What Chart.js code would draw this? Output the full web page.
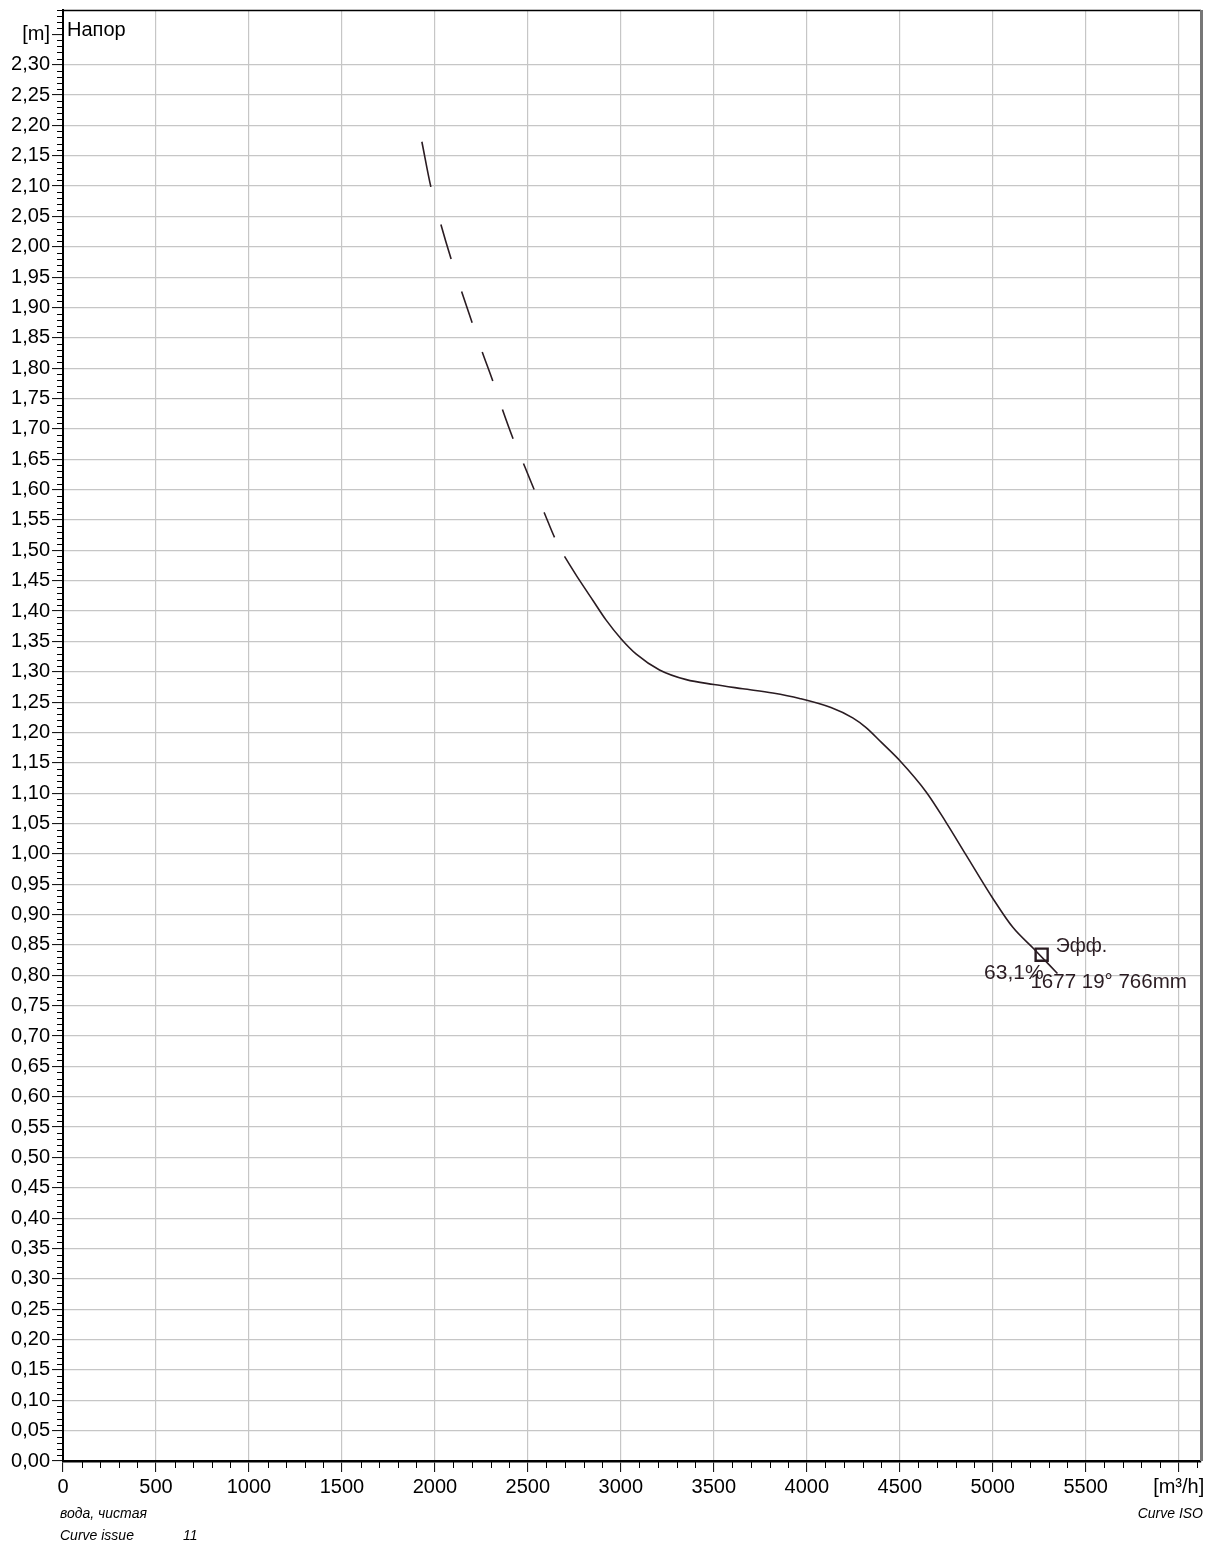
<!DOCTYPE html>
<html><head><meta charset="utf-8">
<script src="https://cdn.jsdelivr.net/npm/chart.js@4.4.1/dist/chart.umd.min.js"></script>
<style>html,body{margin:0;padding:0;background:#fff}#wrap{width:1206px;height:1544px;position:relative}canvas{display:block}</style>
</head><body><div id="wrap"><canvas id="c" width="1206" height="1544"></canvas></div>
<script>
// ---- data ----
const flow = [1930,1978,2031,2086,2142,2199,2253,2310,2362,2419,2475,2534,2588,2644,2697,2779,2851,2921,3002,3083,3208,3352,3500,3656,3817,3961,4130,4247,4319,4400,4502,4642,4749,4857,5000,5108,5223,5348];
const head = [2.173,2.099,2.038,1.981,1.928,1.876,1.828,1.780,1.733,1.685,1.644,1.600,1.562,1.521,1.490,1.450,1.417,1.385,1.354,1.329,1.303,1.287,1.279,1.272,1.265,1.256,1.241,1.224,1.208,1.184,1.153,1.102,1.052,0.998,0.927,0.879,0.843,0.803];
const unstableUntil = 2697;           // flow up to which the curve is drawn dashed
const dutyFlow = [5263];
const dutyHead = [0.834];
const dutyName = 'Эфф.';
const dutyEff = '63,1%';
const curveName = '1677 19° 766mm';
const yTitle = 'Напор';
const yUnit = '[m]';
const xUnit = '[m³/h]';
const xMajorTicks = [0,500,1000,1500,2000,2500,3000,3500,4000,4500,5000,5500,6000];
const footMedium = 'вода, чистая';
const footIssueLabel = 'Curve issue';
const footIssueValue = '11';
const footStandard = 'Curve ISO';

// ---- build ----
const pts = flow.map((f, i) => ({x: f, y: head[i]}));
const dashedPts = pts.filter(p => p.x <= unstableUntil);
const solidPts = pts.filter(p => p.x >= unstableUntil);
const INK = '#2a1c22';
const FONT = "'Liberation Sans', Arial, sans-serif";
const near = (a, b) => Math.abs(a - b) < 1e-6;

const decor = {
  id: 'decor',
  beforeDatasetsDraw(chart) {
    const {ctx, chartArea: a, scales: {x, y}} = chart;
    ctx.save();
    ctx.strokeStyle = '#000';
    ctx.lineWidth = 1;
    ctx.beginPath();
    for (let i = 0; i <= 239; i++) {
      if (i % 5 === 0) continue;
      const py = Math.round(y.getPixelForValue(i / 100)) + 0.5;
      ctx.moveTo(a.left - 6, py); ctx.lineTo(a.left, py);
    }
    for (let i = 0; i <= 61; i++) {
      if (i % 5 === 0) continue;
      const px = Math.round(x.getPixelForValue(i * 100)) + 0.5;
      ctx.moveTo(px, a.bottom); ctx.lineTo(px, a.bottom + 7);
    }
    ctx.stroke();
    ctx.strokeStyle = '#000';
    ctx.lineWidth = 1.5;
    ctx.beginPath(); ctx.moveTo(a.left, a.top + 0.5); ctx.lineTo(a.right, a.top + 0.5); ctx.stroke();
    ctx.strokeStyle = '#777';
    ctx.lineWidth = 3;
    ctx.beginPath(); ctx.moveTo(a.right + 0.5, a.top); ctx.lineTo(a.right + 0.5, a.bottom); ctx.stroke();
    ctx.restore();
  },
  afterDraw(chart) {
    const {ctx, chartArea: a, scales: {x, y}} = chart;
    ctx.save();
    ctx.fillStyle = '#000';
    ctx.font = '20px ' + FONT;
    ctx.textBaseline = 'middle';
    ctx.textAlign = 'left';
    ctx.fillText(yTitle, a.left + 4, 30);
    const dx = x.getPixelForValue(dutyFlow[0]);
    const dy = y.getPixelForValue(dutyHead[0]);
    ctx.fillStyle = INK;
    ctx.textBaseline = 'alphabetic';
    ctx.font = '19.5px ' + FONT;
    ctx.textAlign = 'left';
    ctx.fillText(dutyName, dx + 14, dy - 3);
    ctx.font = '21px ' + FONT;
    ctx.textAlign = 'right';
    ctx.fillText(dutyEff, dx + 2, dy + 24);
    const ex = x.getPixelForValue(flow[flow.length - 1]);
    const ey = y.getPixelForValue(head[head.length - 1]);
    ctx.textAlign = 'left';
    ctx.font = '20.5px ' + FONT;
    ctx.fillText(curveName, ex - 27, ey + 15);
    ctx.fillStyle = '#000';
    ctx.font = 'italic 14px ' + FONT;
    ctx.textBaseline = 'middle';
    ctx.textAlign = 'left';
    ctx.fillText(footMedium, 60, 1514);
    ctx.fillText(footIssueLabel, 60, 1536);
    ctx.fillText(footIssueValue, 183, 1536);
    ctx.textAlign = 'right';
    ctx.fillText(footStandard, 1203, 1514);
    ctx.restore();
  }
};

new Chart(document.getElementById('c'), {
  type: 'line',
  data: {
    datasets: [
      {data: dashedPts, borderColor: INK, borderWidth: 1.6, pointRadius: 0, cubicInterpolationMode: 'monotone',
       borderDash: [46,39,36,34,33,31,31,30,31,27,28,25,27,22]},
      {data: solidPts, borderColor: INK, borderWidth: 1.6, pointRadius: 0, cubicInterpolationMode: 'monotone'},
      {data: dutyFlow.map((f, i) => ({x: f, y: dutyHead[i]})), showLine: false, pointStyle: 'rect',
       pointRadius: 8.5, pointBorderWidth: 2.4, pointBorderColor: INK, pointBackgroundColor: '#fff'}
    ]
  },
  options: {
    responsive: false,
    devicePixelRatio: 1,
    animation: false,
    layout: {autoPadding: false, padding: {top: 10, right: 5, left: 0, bottom: 0}},
    plugins: {legend: {display: false}, tooltip: {enabled: false}},
    scales: {
      x: {
        type: 'linear', min: 0, max: 6120,
        afterFit: s => { s.height = 83; s.paddingRight = 0; s.paddingLeft = 0; },
        afterBuildTicks: s => { s.ticks = xMajorTicks.map(v => ({value: v})); },
        ticks: {autoSkip: false, maxRotation: 0, padding: 3,
          color: '#000', font: {size: 20, family: FONT},
          callback: v => near(v, 6000) ? xUnit : String(v)},
        grid: {color: '#c6c6c6', lineWidth: 1.2, tickLength: 11, tickColor: '#000', tickWidth: 1},
        border: {display: true, color: '#000', width: 2.5}
      },
      y: {
        type: 'linear', min: 0, max: 2.39,
        afterFit: s => { s.width = 63; s.paddingTop = 0; s.paddingBottom = 0; },
        ticks: {stepSize: 0.05, includeBounds: false, autoSkip: false, padding: 2,
          color: '#000', font: {size: 20, family: FONT},
          callback: v => near(v, 2.35) ? yUnit : v.toFixed(2).replace('.', ',')},
        grid: {color: c => (c.tick && near(c.tick.value, 2.35)) ? 'rgba(0,0,0,0)' : '#c6c6c6',
          lineWidth: 1.2, tickLength: 11, tickColor: '#000', tickWidth: 1},
        border: {display: true, color: '#000', width: 2}
      }
    }
  },
  plugins: [decor]
});
</script>
</body></html>
